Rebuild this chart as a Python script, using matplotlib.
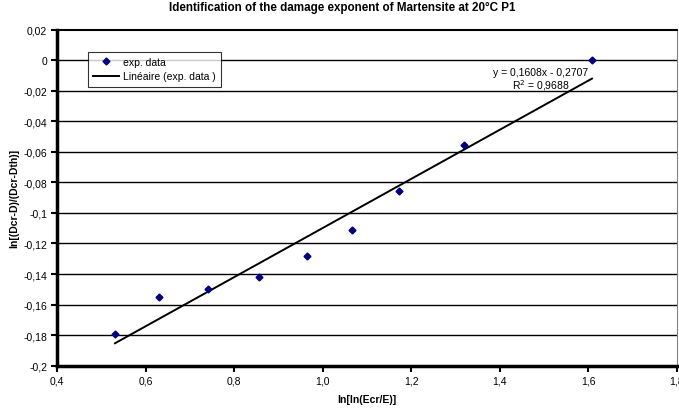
import numpy as np
import matplotlib
matplotlib.use("Agg")
import matplotlib.pyplot as plt
from matplotlib.ticker import FuncFormatter

plt.rcParams["font.family"] = ["Liberation Sans", "DejaVu Sans"]
plt.rcParams["font.size"] = 7.5

# data
x_data = [0.531, 0.630, 0.741, 0.856, 0.965, 1.067, 1.173, 1.320, 1.608]
y_data = [-0.179, -0.155, -0.1495, -0.1418, -0.128, -0.111, -0.086, -0.0553, 0.0]
slope = 0.1608
intercept = -0.2707
r2 = 0.9688

y_ticks = [0.02, 0, -0.02, -0.04, -0.06, -0.08, -0.1, -0.12, -0.14, -0.16, -0.18, -0.2]
x_ticks = [0.4, 0.6, 0.8, 1.0, 1.2, 1.4, 1.6, 1.8]

fig = plt.figure(figsize=(6.79, 4.10), dpi=100)
ax = fig.add_axes([57 / 679, 1 - 366.7 / 410, 620 / 679, (366.7 - 30.5) / 410])

for yt in y_ticks[1:-1]:
    ax.axhline(yt, color="black", lw=1, zorder=1)

ax.plot(x_data, y_data, ls="none", marker="D", ms=3.5, color="#000080",
        label="exp. data", zorder=3)
xs = np.array([min(x_data), max(x_data)])
ax.plot(xs, slope * xs + intercept, color="black", lw=1.4,
        label="Linéaire (exp. data )", zorder=2)

ax.set_xlim(0.4, 1.8)
ax.set_ylim(-0.2, 0.02)
ax.set_xticks(x_ticks)
ax.set_yticks(y_ticks)
ax.xaxis.set_major_formatter(FuncFormatter(lambda v, p: f"{v:.1f}".replace(".", ",")))
ax.yaxis.set_major_formatter(FuncFormatter(lambda v, p: ("0" if abs(v) < 1e-9 else f"{v:g}".replace(".", ","))))
ax.tick_params(direction="out", length=4, width=1.5, pad=3, colors="black")

ax.spines["left"].set_linewidth(2.5)
ax.spines["bottom"].set_linewidth(2.5)
ax.spines["top"].set_linewidth(1.5)
ax.spines["right"].set_color("#808080")

eq = f"y = {slope:.4f}x - {abs(intercept):.4f}".replace(".", ",")
ax.text(541, 410 - 73, eq, transform=None, ha="center", va="center", fontsize=7.5)
ax.text(541, 410 - 86, "R$^2$ = " + f"{r2:.4f}".replace(".", ","), transform=None,
        ha="center", va="center", fontsize=7.5)

leg = ax.legend(loc="upper left", bbox_to_anchor=(31 / 620, 1 - 22 / 336),
                frameon=True, fancybox=False, edgecolor="black", fontsize=7.5,
                borderpad=0.5, handlelength=2.5, labelspacing=0.45, borderaxespad=0,
                handletextpad=0.4)
leg.get_frame().set_linewidth(0.8)

fig.text(0.5 + 3 / 679, 1 - 8 / 410, "Identification of the damage exponent of Martensite at 20°C P1",
         ha="center", va="center", fontsize=8.4, fontweight="bold")
ax.set_xlabel("ln[ln(Ecr/E)]", fontweight="bold", fontsize=7.5, labelpad=6)
ax.set_ylabel("ln[(Dcr-D)/(Dcr-Dth)]", fontweight="bold", fontsize=7.5, labelpad=3)

fig.savefig("out.png", dpi=100)
